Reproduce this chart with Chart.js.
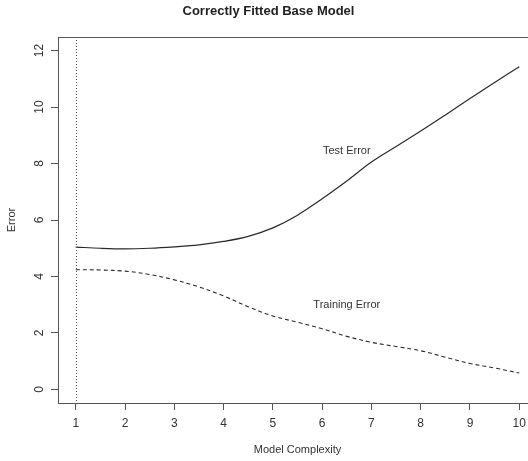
<!DOCTYPE html>
<html>
<head>
<meta charset="utf-8">
<script src="https://cdn.jsdelivr.net/npm/chart.js@4.4.1/dist/chart.umd.min.js"></script>
<style>
  html, body { margin: 0; padding: 0; background: #fff; overflow: hidden; }
  #wrap { width: 585px; height: 461px; }
</style>
</head>
<body>
<div id="wrap"><canvas id="c" width="585" height="461"></canvas></div>
<script>
// ---- data ----
const complexity = [1, 1.5, 2, 2.5, 3, 3.5, 4, 4.5, 5, 5.5, 6, 6.5, 7, 7.5, 8, 8.5, 9, 9.5, 10];
const testError = [5.04, 5.0, 4.98, 5.0, 5.05, 5.12, 5.24, 5.42, 5.72, 6.17, 6.75, 7.38, 8.05, 8.6, 9.15, 9.72, 10.3, 10.87, 11.43];
const trainingError = [4.24, 4.23, 4.19, 4.07, 3.88, 3.63, 3.31, 2.93, 2.60, 2.38, 2.15, 1.88, 1.67, 1.52, 1.37, 1.14, 0.92, 0.76, 0.58];
const xTickValues = [1, 2, 3, 4, 5, 6, 7, 8, 9, 10];
const yTickValues = [0, 2, 4, 6, 8, 10, 12];
const verticalLineAt = 1;
const labelTexts = ["Test Error", "Training Error"];
const labelX = [6.5, 6.5];
const labelY = [8.45, 3.0];

const FONT = "'Liberation Sans', Arial, sans-serif";
const INK = '#333';

const decor = {
  id: 'decor',
  afterDatasetsDraw(chart) {
    const { ctx, chartArea: a, scales: { x, y } } = chart;
    ctx.save();
    // dotted vertical line
    ctx.strokeStyle = '#555';
    ctx.lineWidth = 1;
    ctx.setLineDash([1, 2]);
    const vx = Math.round(x.getPixelForValue(verticalLineAt)) + 0.5;
    ctx.beginPath();
    ctx.moveTo(vx, a.top);
    ctx.lineTo(vx, a.bottom);
    ctx.stroke();
    ctx.setLineDash([]);
    // box
    ctx.strokeStyle = '#555';
    ctx.lineWidth = 1;
    ctx.strokeRect(Math.round(a.left) + 0.5, Math.round(a.top) + 0.5,
      Math.round(a.right - a.left), Math.round(a.bottom - a.top));
    // text labels
    ctx.fillStyle = INK;
    ctx.font = '11px ' + FONT;
    ctx.textAlign = 'center';
    ctx.textBaseline = 'middle';
    labelTexts.forEach((t, i) => {
      ctx.fillText(t, x.getPixelForValue(labelX[i]), y.getPixelForValue(labelY[i]));
    });
    ctx.restore();
  }
};

new Chart(document.getElementById('c'), {
  type: 'line',
  data: {
    datasets: [
      {
        label: 'Test Error',
        data: complexity.map((c, i) => ({ x: c, y: testError[i] })),
        borderColor: '#2a2a2a',
        borderWidth: 1.2,
        pointRadius: 0,
        tension: 0.35,
        fill: false
      },
      {
        label: 'Training Error',
        data: complexity.map((c, i) => ({ x: c, y: trainingError[i] })),
        borderColor: '#2a2a2a',
        borderWidth: 1.1,
        borderDash: [4, 3],
        pointRadius: 0,
        tension: 0.35,
        fill: false
      }
    ]
  },
  options: {
    responsive: false,
    animation: false,
    events: [],
    layout: { padding: { left: 0, right: 48, top: 0, bottom: 0 } },
    plugins: {
      legend: { display: false },
      tooltip: { enabled: false },
      title: {
        display: true,
        text: 'Correctly Fitted Base Model',
        color: '#222',
        font: { family: FONT, size: 13, weight: 'bold' },
        padding: { top: 4, bottom: 17.4 }
      }
    },
    scales: {
      x: {
        type: 'linear',
        min: 0.64,
        max: 10.36,
        afterBuildTicks: s => { s.ticks = xTickValues.map(v => ({ value: v })); },
        afterFit: s => { s.height = 58; },
        grid: { display: true, drawOnChartArea: false, drawTicks: true, tickLength: 7, color: '#555', lineWidth: 1 },
        border: { display: false },
        ticks: { color: INK, font: { family: FONT, size: 12 }, padding: 6, maxRotation: 0, minRotation: 0 },
        title: { display: true, text: 'Model Complexity', color: INK, font: { family: FONT, size: 11 }, padding: { top: 0, bottom: 4.4 } }
      },
      y: {
        type: 'linear',
        min: -0.48,
        max: 12.48,
        afterBuildTicks: s => { s.ticks = yTickValues.map(v => ({ value: v })); },
        afterFit: s => { s.width = 58; },
        grid: { display: true, drawOnChartArea: false, drawTicks: true, tickLength: 7, color: '#555', lineWidth: 1 },
        border: { display: false },
        ticks: { color: INK, font: { family: FONT, size: 12 }, padding: 4.3, minRotation: 90, maxRotation: 90, crossAlign: 'center' },
        title: { display: true, text: 'Error', color: INK, font: { family: FONT, size: 11 }, padding: { top: 5.4, bottom: 0 } }
      }
    }
  },
  plugins: [decor]
});
</script>
</body>
</html>
